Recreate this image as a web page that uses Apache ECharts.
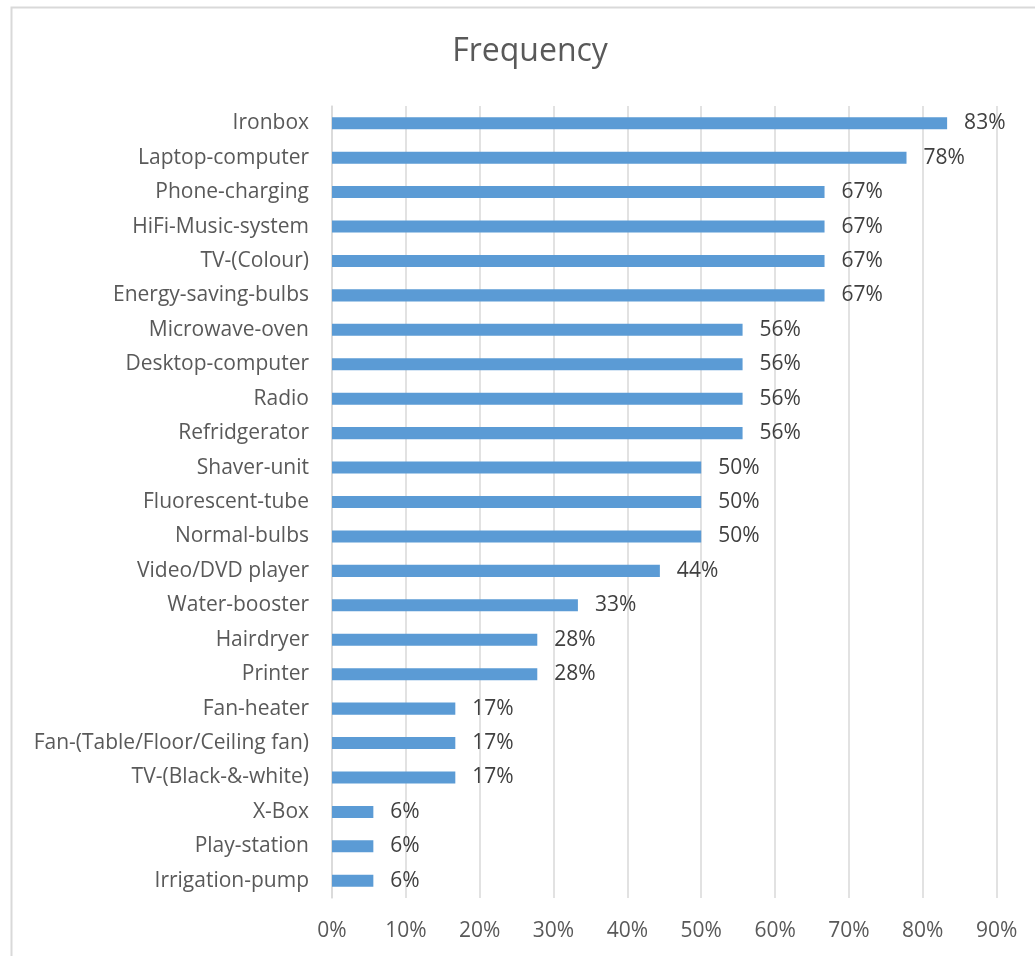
<!DOCTYPE html>
<html>
<head>
<meta charset="utf-8">
<script src="https://cdn.jsdelivr.net/npm/echarts@6/dist/echarts.min.js"></script>
<style>
  html, body { margin: 0; padding: 0; background: #fff; }
  #chart { width: 1035px; height: 956px; }
</style>
</head>
<body>
<div id="chart"></div>
<script>
// Appliances, listed top to bottom
const categories = [
  'Ironbox', 'Laptop-computer', 'Phone-charging', 'HiFi-Music-system', 'TV-(Colour)',
  'Energy-saving-bulbs', 'Microwave-oven', 'Desktop-computer', 'Radio', 'Refridgerator',
  'Shaver-unit', 'Fluorescent-tube', 'Normal-bulbs', 'Video/DVD player', 'Water-booster',
  'Hairdryer', 'Printer', 'Fan-heater', 'Fan-(Table/Floor/Ceiling fan)', 'TV-(Black-&-white)',
  'X-Box', 'Play-station', 'Irrigation-pump'
];
// Share of households (%)
const frequency = [
  83.3, 77.8, 66.7, 66.7, 66.7,
  66.7, 55.6, 55.6, 55.6, 55.6,
  50.0, 50.0, 50.0, 44.4, 33.3,
  27.8, 27.8, 16.7, 16.7, 16.7,
  5.6, 5.6, 5.6
];
const xTicks = { min: 0, max: 90, step: 10 };

const FONT = '"Open Sans", "Noto Sans", sans-serif';
const chart = echarts.init(document.getElementById('chart'), null, { renderer: 'canvas' });
chart.setOption({
  animation: false,
  backgroundColor: '#ffffff',
  textStyle: { fontFamily: FONT },
  graphic: [{
    type: 'rect',
    shape: { x: 11.5, y: 7.5, width: 1040, height: 960 },
    style: { fill: 'none', stroke: '#d9d9d9', lineWidth: 2 },
    silent: true
  }],
  title: {
    text: 'Frequency',
    left: 525, top: 31, textAlign: 'center',
    textStyle: { fontFamily: FONT, fontSize: 32, fontWeight: 'normal', color: '#595959' }
  },
  grid: { left: 332, right: 38.4, top: 106, bottom: 58, containLabel: false },
  xAxis: {
    type: 'value',
    min: xTicks.min, max: xTicks.max, interval: xTicks.step,
    axisLine: { show: false },
    axisTick: { show: false },
    splitLine: { show: true, lineStyle: { color: '#d9d9d9', width: 1.5 } },
    axisLabel: {
      formatter: v => v + '%',
      fontFamily: FONT, fontSize: 21, color: '#595959', margin: 23
    }
  },
  yAxis: {
    type: 'category',
    data: categories,
    inverse: true,
    axisLine: { show: true, lineStyle: { color: '#d9d9d9', width: 1.5 } },
    axisTick: { show: false },
    axisLabel: { fontFamily: FONT, fontSize: 21, color: '#595959', margin: 23 }
  },
  series: [{
    type: 'bar',
    data: frequency,
    barWidth: '35%',
    itemStyle: { color: '#5b9bd5' },
    label: {
      show: true,
      position: 'right',
      distance: 17,
      formatter: p => Math.round(p.value) + '%',
      fontFamily: FONT, fontSize: 21, color: '#404040'
    }
  }]
});
</script>
</body>
</html>
